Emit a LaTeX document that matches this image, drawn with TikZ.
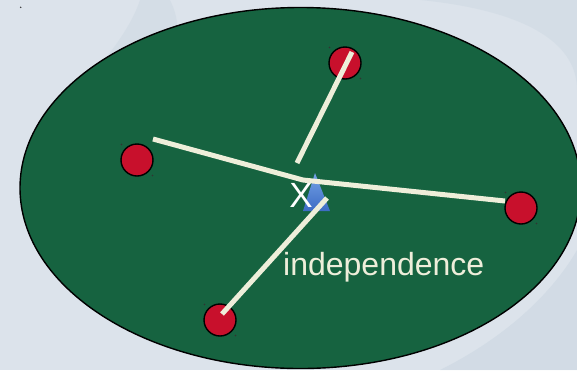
\documentclass[tikz,border=0pt]{standalone}
\usepackage{fontspec}
\setmainfont{Liberation Sans}
\usetikzlibrary{shapes.geometric}
\definecolor{bgc}{HTML}{DCE3EB}
\definecolor{treec}{HTML}{C3D1DD}
\definecolor{ellc}{HTML}{166340}
\definecolor{redc}{HTML}{C8102C}
\definecolor{creamc}{HTML}{EEEEDA}
\definecolor{triA}{HTML}{74A2E6}
\definecolor{triB}{HTML}{3D6CC4}
\tikzset{
  ball/.style={circle, draw=black, line width=1.4pt, fill=redc, minimum size=32pt, inner sep=0pt},
  bar/.style={draw=creamc, line width=5pt, line cap=butt},
  lbl/.style={text=creamc, font=\fontsize{32}{36}\selectfont, inner sep=0pt},
  speck/.style={fill=black!80}
}
\begin{document}
\begin{tikzpicture}[x=1pt,y=-1pt]
\useasboundingbox (0,0) rectangle (577,370);
\fill[bgc] (0,0) rectangle (577,370);
% faint tree texture
\fill[treec,opacity=0.3] (170,0) .. controls (200,60) and (140,120) .. (30,160) .. controls (40,120) and (120,60) .. (140,0) -- cycle;
\fill[treec,opacity=0.3] (420,0) .. controls (520,10) and (577,40) .. (577,90) -- (577,0) -- cycle;
\fill[treec,opacity=0.4] (440,370) .. controls (520,330) and (560,280) .. (577,250) -- (577,370) -- cycle;
\fill[speck] (20.7,7.3) circle (0.8);
% main ellipse
\node[ellipse, draw=black, line width=1.4pt, fill=ellc, minimum width=561pt, minimum height=361pt, inner sep=0pt] (ell) at (300.5,188) {};
% triangle
\shade[top color=triA, bottom color=triB] (315,173) coordinate (apex) -- (330,211) coordinate (tr) -- (303,211) coordinate (tl) -- cycle;
\node[text=white, font=\fontsize{35}{40}\selectfont, inner sep=0pt] (xl) at (301,195) {X};
% balls
\node[ball] (bl) at (137,160) {};
\node[ball] (bt) at (345,63) {};
\node[ball] (br) at (521,208) {};
\node[ball] (bb) at (220,320) {};
\foreach \n in {bl,bt,br,bb}{
  \fill[speck] ([shift={(-15.5,-15.5)}]\n.center) circle (0.8);
  \fill[speck] ([shift={(15.5,15.5)}]\n.center) circle (0.8);
}
% connectors
\coordinate (hub) at (303,180);
\coordinate (lend) at (153,139);
\coordinate (rend) at (505,201);
\coordinate (tend) at (352,52);
\coordinate (tbeg) at (297,163);
\coordinate (bend) at (222,314);
\coordinate (bbeg) at (327,198);
\draw[bar] (lend) -- (hub) -- (rend);
\draw[bar] (tend) -- (tbeg);
\draw[bar] (bend) -- (bbeg);
\node[lbl, anchor=base west] (ind) at (283,275) {independence};
\end{tikzpicture}
\end{document}
